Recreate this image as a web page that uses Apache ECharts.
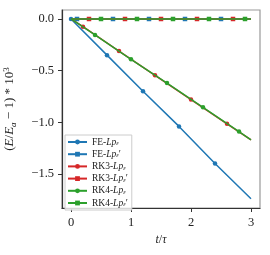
<!DOCTYPE html>
<html><head><meta charset="utf-8">
<script src="https://cdn.jsdelivr.net/npm/echarts@6/dist/echarts.min.js"></script>
<style>html,body{margin:0;padding:0;background:#fff}#c{width:270px;height:255px}</style>
</head><body><div id="c"></div>
<script>
// ---- data ----
const xTicks = [0, 1, 2, 3];
const yTicks = [0, -0.5, -1.0, -1.5];
const seriesNames = ['FE-Lpε', "FE-Lpε'", 'RK3-Lpε', "RK3-Lpε'", 'RK4-Lpε', "RK4-Lpε'"];

const feT  = [0, 0.6, 1.2, 1.8, 2.4, 3.0];
const feV  = [0, -0.35, -0.70, -1.04, -1.40, -1.74];
const feM  = [true, true, true, true, true, false];

const fepT = [0, 0.1, 0.7, 1.3, 1.9, 2.5, 3.0];
const fepV = [0, 0, 0, 0, 0, 0, 0];
const fepM = [false, true, true, true, true, true, false];

const rk3T = [0, 0.2, 0.8, 1.4, 2.0, 2.6, 3.0];
const rk3V = [0, -0.075, -0.31, -0.545, -0.78, -1.015, -1.17];
const rk3M = [false, true, true, true, true, true, false];

const rk3pT = [0, 0.3, 0.9, 1.5, 2.1, 2.7, 3.0];
const rk3pV = [0, 0, 0, 0, 0, 0, 0];
const rk3pM = [false, true, true, true, true, true, false];

const rk4T = [0, 0.4, 1.0, 1.6, 2.2, 2.8, 3.0];
const rk4V = [0, -0.155, -0.39, -0.62, -0.855, -1.09, -1.17];
const rk4M = [false, true, true, true, true, true, false];

const rk4pT = [0, 0.5, 1.1, 1.7, 2.3, 2.9, 3.0];
const rk4pV = [0, 0, 0, 0, 0, 0, 0];
const rk4pM = [false, true, true, true, true, true, false];

// ---- chart ----
const FONT = '"Liberation Serif", "DejaVu Serif", serif';
const colors = ['#1f77b4', '#1f77b4', '#d62728', '#d62728', '#2ca02c', '#2ca02c'];
const symbols = ['circle', 'rect', 'circle', 'rect', 'circle', 'rect'];
const sets = [[feT, feV, feM], [fepT, fepV, fepM], [rk3T, rk3V, rk3M], [rk3pT, rk3pV, rk3pM], [rk4T, rk4V, rk4M], [rk4pT, rk4pV, rk4pM]];

function mk(t, v, m) {
  return t.map((x, i) => m[i] ? { value: [x, v[i]] } : { value: [x, v[i]], symbol: 'none' });
}

const series = sets.map((s, k) => ({
  name: seriesNames[k],
  type: 'line',
  data: mk(s[0], s[1], s[2]),
  symbol: symbols[k],
  symbolSize: 4.5,
  showAllSymbol: true,
  lineStyle: { color: colors[k], width: 1.5 },
  itemStyle: { color: colors[k] },
  animation: false,
  z: 2 + k
}));

function fmtNum(v) {
  const s = Math.abs(v).toFixed(1);
  return v < 0 ? '\u2212' + s : s;
}

const chart = echarts.init(document.getElementById('c'), null, { renderer: 'canvas' });
chart.setOption({
  animation: false,
  backgroundColor: '#fff',
  grid: { left: 62, top: 10, right: 10, bottom: 47, show: true, borderColor: '#999', borderWidth: 1.2, containLabel: false, outerBoundsMode: 'none' },
  xAxis: {
    type: 'value', min: -0.15, max: 3.15,
    name: '{i|t}{n|/}{i|τ}', nameLocation: 'middle', nameGap: 23,
    nameTextStyle: { rich: { i: { fontFamily: FONT, fontStyle: 'italic', fontSize: 12, color: '#222' }, n: { fontFamily: FONT, fontSize: 12, color: '#222' } } },
    axisLine: { show: true, onZero: false, lineStyle: { color: '#333', width: 1.2 } },
    axisTick: { show: true, inside: false, length: 4, customValues: xTicks, lineStyle: { color: '#333' } },
    axisLabel: { customValues: xTicks, fontFamily: FONT, fontSize: 12.5, color: '#222', margin: 8, formatter: v => String(v) },
    splitLine: { show: false }
  },
  yAxis: {
    type: 'value', min: -1.83, max: 0.087,
    name: '{n|(}{i|E}{n|/}{i|E}{sub|a}{n| \u2212 1) * 10}{sup|3}', nameLocation: 'middle', nameGap: 44, nameRotate: 90,
    nameTextStyle: { padding: [0, 0, 0, 0], rich: {
      i: { fontFamily: FONT, fontStyle: 'italic', fontSize: 13, color: '#222' },
      n: { fontFamily: FONT, fontSize: 13, color: '#222' },
      sub: { fontFamily: FONT, fontStyle: 'italic', fontSize: 9, color: '#222', verticalAlign: 'bottom', padding: [7, 0, 0, 0] },
      sup: { fontFamily: FONT, fontSize: 9, color: '#222', verticalAlign: 'top', padding: [0, 0, 7, 0] }
    } },
    axisLine: { show: true, onZero: false, lineStyle: { color: '#333', width: 1.2 } },
    axisTick: { show: true, inside: false, length: 4, customValues: yTicks, lineStyle: { color: '#333' } },
    axisLabel: { customValues: yTicks, fontFamily: FONT, fontSize: 12.5, color: '#222', margin: 8, formatter: fmtNum },
    splitLine: { show: false }
  },
  legend: {
    orient: 'vertical', left: 65, top: 135,
    itemWidth: 19, itemHeight: 6, itemGap: 2.2,
    padding: [2, 4, 2, 2],
    borderColor: '#ccc', borderWidth: 1, borderRadius: 0, backgroundColor: 'rgba(255,255,255,0.8)',
    data: seriesNames,
    formatter: function (name) {
      const prime = name.endsWith("'");
      const base = name.split('-')[0];
      return '{n|' + base + '-}{i|Lp}{s|ε}' + (prime ? "{n|\u2032}" : '');
    },
    textStyle: { fontFamily: FONT, fontSize: 9.5, color: '#222', lineHeight: 10, rich: {
      n: { fontFamily: FONT, fontSize: 9.5, color: '#222', lineHeight: 10 },
      i: { fontFamily: FONT, fontStyle: 'italic', fontSize: 9.5, color: '#222', lineHeight: 10 },
      s: { fontFamily: FONT, fontStyle: 'italic', fontSize: 6.5, color: '#222', verticalAlign: 'bottom', lineHeight: 10, padding: [3, 0, 0, 0] }
    } }
  },
  series: series
});
</script></body></html>
